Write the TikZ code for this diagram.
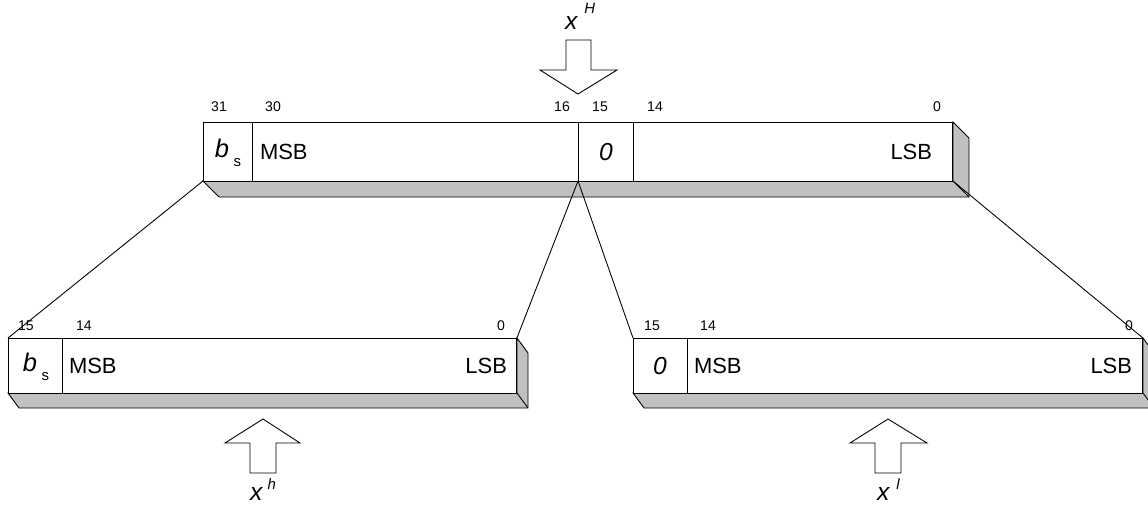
\documentclass[tikz,border=0pt]{standalone}
\usepackage{fontspec}
\setmainfont{Liberation Sans}
\definecolor{sidegray}{RGB}{192,192,192}

\begin{document}
\begin{tikzpicture}[
		x=0.02cm, y=-0.02cm,
		line width=0.5pt,
		every node/.style={inner sep=0pt, outer sep=0pt},
		face/.style={rectangle, draw, fill=white, anchor=north west},
		side/.style={draw, fill=sidegray},
		bitno/.style={font=\fontsize{8}{9}\selectfont},
		field/.style={font=\fontsize{12.5}{14}\selectfont},
		var/.style={font=\fontsize{14}{16}\selectfont\itshape, anchor=base west},
		blockarrow/.style={draw, fill=white}
	]
  \useasboundingbox (0,0) rectangle (1148,504);

  % register x^H
  \draw[side] (203,181) -- (219,197) -- (969,197) -- (969,138) -- (953,122) -- (953,181) -- cycle;
  \draw (953,181) -- (969,197);
  \node (H) [face, minimum width=15cm, minimum height=1.18cm] at (203,122) {};
  \draw (252,122) -- (252,181);
  \draw (578,122) -- (578,181);
  \draw (633,122) -- (633,181);
  \coordinate (H_mid) at (578,181);
  \node (H_bs) at (228,153) {\fontsize{14.5}{16}\selectfont\textit{b}\hspace{2.5pt}\raisebox{-0.7ex}{\fontsize{8.5}{9}\selectfont s}};
  \node (H_msb) [field, anchor=west] at (260,152) {MSB};
  \node (H_zero) [field, font=\fontsize{14}{15}\selectfont\itshape] at (606,152) {0};
  \node (H_lsb) [field, anchor=east] at (932,152) {LSB};
  \node (H_31) [bitno] at (219,107) {31};
  \node (H_30) [bitno] at (273,107) {30};
  \node (H_16) [bitno] at (562,107) {16};
  \node (H_15) [bitno] at (600,107) {15};
  \node (H_14) [bitno] at (655,107) {14};
  \node (H_0) [bitno] at (937,107) {0};

  % register x^h
  \draw[side] (8,393) -- (19,408) -- (528,408) -- (528,353) -- (517,338) -- (517,393) -- cycle;
  \draw (517,393) -- (528,408);
  \node (h) [face, minimum width=10.18cm, minimum height=1.1cm] at (8,338) {};
  \draw (62,338) -- (62,393);
  \node (h_bs) at (36,367) {\fontsize{14.5}{16}\selectfont\textit{b}\hspace{2.5pt}\raisebox{-0.7ex}{\fontsize{8.5}{9}\selectfont s}};
  \node (h_msb) [field, anchor=west] at (69,366) {MSB};
  \node (h_lsb) [field, anchor=east] at (507,366) {LSB};
  \node (h_15) [bitno] at (26,326) {15};
  \node (h_14) [bitno] at (84,326) {14};
  \node (h_0) [bitno] at (501,326) {0};

  % register x^l
  \draw[side] (633,393) -- (644,408) -- (1154,408) -- (1154,353) -- (1143,338) -- (1143,393) -- cycle;
  \draw (1143,393) -- (1154,408);
  \node (l) [face, minimum width=10.2cm, minimum height=1.1cm] at (633,338) {};
  \draw (687,338) -- (687,393);
  \node (l_zero) [field, font=\fontsize{14}{15}\selectfont\itshape] at (660,366) {0};
  \node (l_msb) [field, anchor=west] at (694,366) {MSB};
  \node (l_lsb) [field, anchor=east] at (1132,366) {LSB};
  \node (l_15) [bitno] at (652,326) {15};
  \node (l_14) [bitno] at (708,326) {14};
  \node (l_0) [bitno] at (1129,326) {0};

  % fan out
  \draw (H.south west) -- (h.north west);
  \draw (H_mid) -- (h.north east);
  \draw (H_mid) -- (l.north west);
  \draw (H.south east) -- (l.north east);

  % block arrows
  \draw[blockarrow] (578,94) -- ++(-38,-24) -- ++(26,0) -- ++(0,-30) -- ++(25,0) -- ++(0,30) -- ++(26,0) -- cycle;
  \draw[blockarrow] (263,419) -- ++(-38,24) -- ++(25,0) -- ++(0,30) -- ++(26,0) -- ++(0,-30) -- ++(24,0) -- cycle;
  \draw[blockarrow] (888,419) -- ++(-38,24) -- ++(25,0) -- ++(0,30) -- ++(26,0) -- ++(0,-30) -- ++(26,0) -- cycle;
  \node (xH) [var] at (565,29) {x\hspace{4pt}\raisebox{1.2ex}{\fontsize{8.5}{9}\selectfont H}};
  \node (xh) [var] at (250,500) {x\hspace{3pt}\raisebox{0.8ex}{\fontsize{8.5}{9}\selectfont h}};
  \node (xl) [var] at (877,500) {x\hspace{4pt}\raisebox{0.8ex}{\fontsize{8.5}{9}\selectfont l}};
\end{tikzpicture}
\end{document}
